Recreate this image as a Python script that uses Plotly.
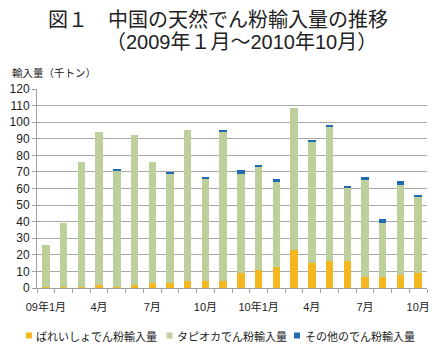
import plotly.graph_objects as go

# Monthly import volumes of natural starch into China, thousand tonnes (Jan 2009 - Oct 2010)
months = list(range(22))
potato = [0.8, 0.8, 0.8, 2.0, 0.8, 2.0, 3.0, 3.0, 4.0, 4.0, 4.0,
          9.0, 10.7, 12.9, 22.7, 15.0, 16.0, 16.0, 6.8, 6.8, 8.0, 9.0]
tapioca = [25.2, 38.2, 75.2, 92.0, 70.2, 90.0, 73.0, 65.7, 91.5, 62.0, 90.0,
           59.7, 62.3, 51.6, 85.6, 73.0, 81.3, 44.3, 58.2, 32.2, 54.0, 46.0]
other = [0.0, 0.0, 0.0, 0.0, 1.0, 0.0, 0.0, 1.3, 0.0, 1.0, 1.5,
         2.3, 1.4, 1.0, 0.0, 1.4, 1.0, 0.8, 2.0, 2.4, 2.5, 1.3]

tick_pos = [0, 3, 6, 9, 12, 15, 18, 21]
tick_text = ["09年1月", "4月", "7月", "10月", "10年1月", "4月", "7月", "10月"]

series_names = ["ばれいしょでん粉輸入量", "タピオカでん粉輸入量", "その他のでん粉輸入量"]
colors = ["#F4B71F", "#BDD09C", "#1F6BB4"]

JP = "Noto Sans CJK JP"
MIX = "Liberation Sans, Noto Sans CJK JP"
TXT = "#222222"

W, H = 436, 349
L, R, T, B = 37, 9, 89, 61
pw, ph = W - L - R, H - T - B


def px(x):
    return (x - L) / pw


def py(y):
    return 1 - (y - T) / ph


fig = go.Figure()
for name, vals, col in zip(series_names, [potato, tapioca, other], colors):
    fig.add_trace(go.Bar(
        x=months, y=vals, name=name,
        marker=dict(color=col, line=dict(width=0)),
        width=0.42, showlegend=False,
    ))

# Legend row along the bottom: colour key squares plus labels
legend_keys = [(26, 34), (166.5, 174.5), (294, 302.5)]
shapes = []
annotations = []
for (kx, tx), name, col in zip(legend_keys, series_names, colors):
    shapes.append(dict(type="rect", xref="paper", yref="paper",
                       x0=px(kx), x1=px(kx + 6), y0=py(338.5), y1=py(332.5),
                       fillcolor=col, line=dict(width=0)))
    annotations.append(dict(text=name, x=px(tx), y=py(335.5), xref="paper", yref="paper",
                            xanchor="left", yanchor="middle", showarrow=False,
                            font=dict(family=JP, size=11, color=TXT)))

annotations += [
    dict(text="図１　中国の天然でん粉輸入量の推移", x=px(218), y=py(18),
         xref="paper", yref="paper", showarrow=False, yanchor="middle",
         font=dict(family=JP, size=20, color=TXT)),
    dict(text="（2009年１月～2010年10月）", x=px(241.5), y=py(42),
         xref="paper", yref="paper", showarrow=False, yanchor="middle",
         font=dict(family=MIX, size=20, color=TXT)),
    dict(text="輸入量（千トン）", x=px(10), y=py(72), xref="paper", yref="paper",
         showarrow=False, xanchor="left", yanchor="middle",
         font=dict(family=JP, size=10.5, color=TXT)),
]

fig.update_layout(
    barmode="stack",
    width=W, height=H,
    margin=dict(l=L, r=R, t=T, b=B, autoexpand=False),
    paper_bgcolor="white", plot_bgcolor="white",
    showlegend=False,
    xaxis=dict(
        range=[-0.5, 21.5], automargin=False,
        tickmode="array", tickvals=tick_pos, ticktext=tick_text,
        ticks="", showgrid=False, ticklabelstandoff=9,
        showline=True, linecolor="#A0A0A0", linewidth=1,
        tickfont=dict(family=MIX, size=11, color=TXT),
        minor=dict(tickmode="linear", tick0=-0.5, dtick=1, ticks="outside",
                   ticklen=4, tickcolor="#A0A0A0", showgrid=False),
        zeroline=False,
    ),
    yaxis=dict(
        range=[0, 120], dtick=10, automargin=False,
        showgrid=True, gridcolor="#A8A8A8", gridwidth=1,
        showline=True, linecolor="#A0A0A0", linewidth=1,
        ticks="outside", ticklen=4, tickcolor="#A0A0A0",
        tickfont=dict(family="Liberation Sans", size=12, color=TXT),
        zeroline=False,
    ),
    shapes=shapes,
    annotations=annotations,
)

fig.write_html("out.html")
